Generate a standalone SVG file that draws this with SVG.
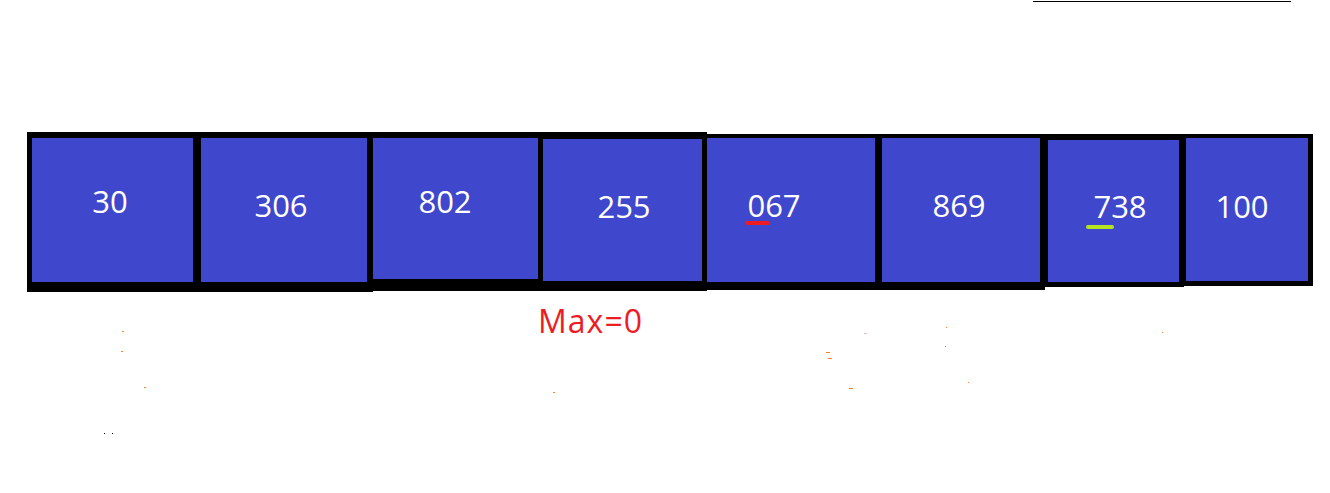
<svg xmlns="http://www.w3.org/2000/svg" width="1330" height="493" viewBox="0 0 1330 493">
<style>
.frame{fill:#000}
.cell{fill:#3f48cc}
.val{font-family:"Open Sans","Noto Sans",sans-serif;font-size:31px;fill:#fff;text-anchor:middle}
.max{font-family:"Open Sans","Noto Sans",sans-serif;font-size:32px;fill:#ed1c24}
.speck{fill:#ff7f27}
</style>
<rect width="1330" height="493" fill="#fff"/>
<line x1="1033" y1="1.5" x2="1291" y2="1.5" stroke="#000" stroke-width="1.2"/>
<g id="frame">
<rect class="frame" x="27" y="132" width="346" height="160"/>
<rect class="frame" x="367" y="132" width="340" height="159"/>
<rect class="frame" x="702" y="134" width="343" height="156"/>
<rect class="frame" x="1040" y="134" width="144" height="153"/>
<rect class="frame" x="1179" y="134" width="134" height="152"/>
</g>
<g id="n1"><rect class="cell" x="32" y="138" width="161" height="144"/><text class="val" x="110" y="213">30</text></g>
<g id="n2"><rect class="cell" x="201" y="138" width="166" height="144"/><text class="val" x="281" y="217">306</text></g>
<g id="n3"><rect class="cell" x="373" y="138" width="165" height="141"/><text class="val" x="445" y="213">802</text></g>
<g id="n4"><rect class="cell" x="543" y="139" width="159" height="142"/><text class="val" x="624" y="218">255</text></g>
<g id="n5"><rect class="cell" x="707" y="138" width="168" height="144"/><text class="val" x="774" y="217">067</text><line x1="747" y1="223" x2="768" y2="223" stroke="#ed1c24" stroke-width="4" stroke-linecap="round"/></g>
<g id="n6"><rect class="cell" x="882" y="138" width="158" height="144"/><text class="val" x="959" y="217">869</text></g>
<g id="n7"><rect class="cell" x="1048" y="140" width="131" height="142"/><text class="val" x="1120" y="218">738</text><line x1="1088" y1="227" x2="1112" y2="227" stroke="#b5e61d" stroke-width="4" stroke-linecap="round"/></g>
<g id="n8"><rect class="cell" x="1186" y="138" width="122" height="143"/><text class="val" x="1242" y="218">100</text></g>
<text class="max" x="538" y="333" textLength="104">Max=0</text>
<g id="specks">
<rect class="speck" x="122" y="331" width="2" height="1"/>
<rect class="speck" x="121" y="351" width="2" height="1"/>
<rect class="speck" x="144" y="387" width="2" height="1"/>
<rect x="104" y="433" width="1" height="1" fill="#000"/>
<rect x="112" y="433" width="1" height="1" fill="#000"/>
<rect class="speck" x="553" y="392" width="2" height="1"/>
<rect class="speck" x="826" y="352" width="4" height="1"/>
<rect class="speck" x="828" y="358" width="4" height="1"/>
<rect class="speck" x="849" y="388" width="4" height="1"/>
<rect x="864" y="333" width="3" height="1" fill="#e8b4cc"/>
<rect class="speck" x="946" y="327" width="1" height="1"/>
<rect class="speck" x="945" y="346" width="1" height="1"/>
<rect class="speck" x="968" y="382" width="1" height="1"/>
<rect class="speck" x="1162" y="332" width="1" height="1"/>
</g>
</svg>
